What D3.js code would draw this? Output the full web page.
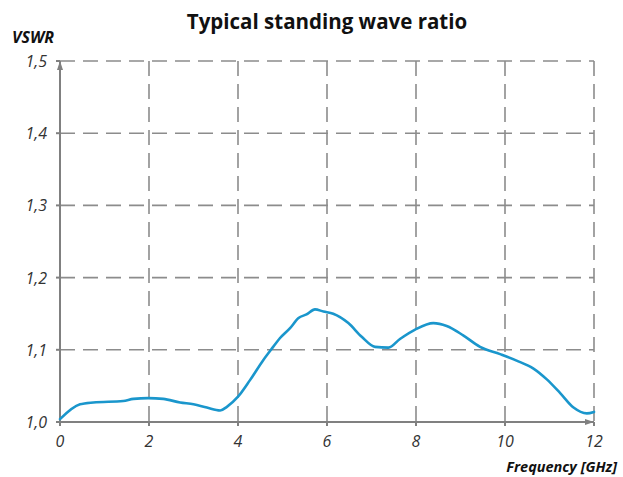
<!DOCTYPE html>
<html><head><meta charset="utf-8">
<script src="https://cdn.jsdelivr.net/npm/d3@7"></script>
<style>body{margin:0;background:#fff}svg{display:block}</style>
</head><body>
<script>
const freq = [0, 0.45, 0.75, 1.42, 1.65, 1.98, 2.32, 2.7, 3.0, 3.3, 3.6, 3.75, 4.0, 4.27, 4.57, 4.79, 4.94, 5.17, 5.36, 5.54, 5.73, 5.92, 6.14, 6.48, 6.78, 7.08, 7.38, 7.64, 7.98, 8.39, 8.69, 9.06, 9.44, 9.89, 10.26, 10.64, 10.94, 11.24, 11.54, 11.84, 12];
const vswr = [1.004, 1.0245, 1.027, 1.029, 1.032, 1.033, 1.032, 1.027, 1.0245, 1.020, 1.016, 1.021, 1.035, 1.058, 1.086, 1.104, 1.116, 1.130, 1.144, 1.149, 1.156, 1.153, 1.150, 1.137, 1.118, 1.104, 1.103, 1.115, 1.128, 1.137, 1.133, 1.120, 1.104, 1.094, 1.085, 1.074, 1.059, 1.040, 1.020, 1.012, 1.014];
const xTicks = [0, 2, 4, 6, 8, 10, 12];
const yTicks = [1.0, 1.1, 1.2, 1.3, 1.4, 1.5];

const W = 623, H = 477;
const svg = d3.select("body").append("svg").attr("width", W).attr("height", H);
const x = d3.scaleLinear().domain([0, 12]).range([60, 594]);
const y = d3.scaleLinear().domain([1.0, 1.5]).range([422, 61]);
const font = "'Open Sans', 'DejaVu Sans', sans-serif";

svg.append("text").attr("x", 327).attr("y", 29).attr("text-anchor", "middle")
  .attr("font-family", font).attr("font-weight", "bold").attr("font-size", 20.5).attr("fill", "#111")
  .text("Typical standing wave ratio");

// grid
const grid = svg.append("g").attr("stroke", "#8c8c8c").attr("stroke-width", 1.6).attr("stroke-dasharray", "15,8");
grid.selectAll("line.h").data(yTicks.filter(d => d > 1.0)).join("line").attr("class", "h")
  .attr("x1", x(0)).attr("x2", x(12)).attr("y1", d => y(d)).attr("y2", d => y(d));
grid.selectAll("line.v").data(xTicks.filter(d => d > 0)).join("line").attr("class", "v")
  .attr("x1", d => x(d)).attr("x2", d => x(d)).attr("y1", y(1.5)).attr("y2", y(1.0));

// axes
const ax = svg.append("g").attr("stroke", "#808080").attr("stroke-width", 2);
ax.append("line").attr("x1", x(0)).attr("x2", x(12)).attr("y1", y(1.0)).attr("y2", y(1.0));
ax.append("line").attr("x1", x(0)).attr("x2", x(0)).attr("y1", y(1.0)).attr("y2", y(1.5));
svg.append("path").attr("fill", "#808080")
  .attr("d", `M${x(0)},${y(1.5)} l-3,9 l6,0 z`);
svg.append("path").attr("fill", "#808080")
  .attr("d", `M${x(12)},${y(1.0)} l-9,-3 l0,6 z`);
// tick marks
ax.selectAll("line.tx").data(xTicks).join("line").attr("class", "tx")
  .attr("x1", d => x(d)).attr("x2", d => x(d)).attr("y1", y(1.0)).attr("y2", y(1.0) + 4);
ax.selectAll("line.ty").data(yTicks).join("line").attr("class", "ty")
  .attr("x1", x(0) - 4).attr("x2", x(0)).attr("y1", d => y(d)).attr("y2", d => y(d));

// tick labels
const fmt = d => d.toFixed(1).replace(".", ",");
svg.selectAll("text.yl").data(yTicks).join("text").attr("class", "yl")
  .attr("x", 47).attr("y", d => y(d) + 6).attr("text-anchor", "end")
  .attr("font-family", font).attr("font-style", "italic").attr("font-size", 16).attr("fill", "#333")
  .text(fmt);
svg.selectAll("text.xl").data(xTicks).join("text").attr("class", "xl")
  .attr("x", d => x(d)).attr("y", 447).attr("text-anchor", "middle")
  .attr("font-family", font).attr("font-style", "italic").attr("font-size", 16).attr("fill", "#333")
  .text(d => d);

svg.append("text").attr("x", 12).attr("y", 43)
  .attr("font-family", font).attr("font-style", "italic").attr("font-weight", "bold").attr("font-size", 16).attr("fill", "#111")
  .text("VSWR");
svg.append("text").attr("x", 617).attr("y", 472).attr("text-anchor", "end")
  .attr("font-family", font).attr("font-style", "italic").attr("font-weight", "bold").attr("font-size", 14.5).attr("fill", "#111")
  .text("Frequency [GHz]");

// line
const data = freq.map((f, i) => [f, vswr[i]]);
svg.append("path").datum(data).attr("fill", "none").attr("stroke", "#1a96cc").attr("stroke-width", 2.6)
  .attr("stroke-linejoin", "round").attr("stroke-linecap", "round")
  .attr("d", d3.line().x(d => x(d[0])).y(d => y(d[1])).curve(d3.curveMonotoneX));
</script>
</body></html>
